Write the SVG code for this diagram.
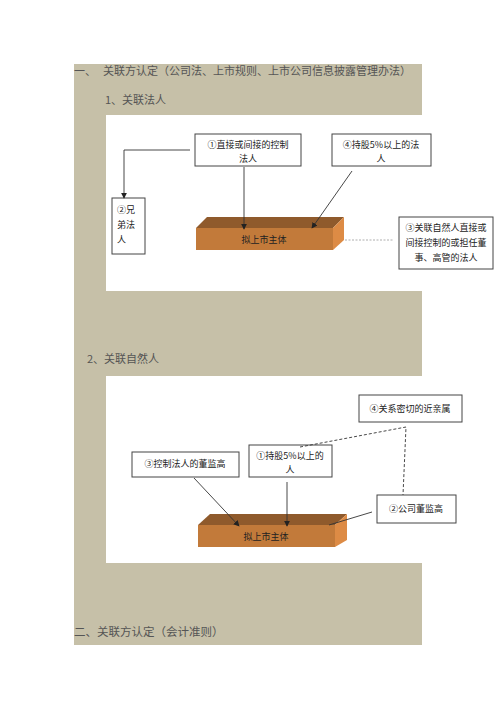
<svg xmlns="http://www.w3.org/2000/svg" width="496" height="702" viewBox="0 0 496 702">
<style>
.h{font-family:"Noto Sans CJK SC","Noto Sans",sans-serif;font-size:11px;fill:#555}
.t{font-family:"Noto Sans CJK SC","Noto Sans",sans-serif;font-size:9px;fill:#222}
.box{fill:#fff;stroke:#444;stroke-width:1}
.ln{stroke:#333;stroke-width:0.9;fill:none}
.top{fill:#8f5a2c}
.front{fill:#c27a3a}
.side{fill:#dd8b45}
</style>
<defs>
<marker id="ar" viewBox="0 0 8 8" refX="7" refY="4" markerWidth="6" markerHeight="6" orient="auto" markerUnits="userSpaceOnUse">
<path d="M0,0 L8,4 L0,8 z" fill="#222"/>
</marker>
</defs>
<rect width="496" height="702" fill="#fff"/>
<rect x="74" y="64" width="348" height="581" fill="#c6c0a8"/>
<rect x="106" y="115" width="316" height="176" fill="#fff"/>
<rect x="106" y="376" width="390" height="187" fill="#fff"/>

<g id="headers">
<text class="h" x="74" y="75">一、</text>
<text class="h" x="103" y="75">关联方认定（公司法、上市规则、上市公司信息披露管理办法）</text>
<text class="h" x="105" y="104">1、关联法人</text>
<text class="h" x="87" y="363">2、关联自然人</text>
<text class="h" x="74" y="636" style="font-size:11.5px">二、关联方认定（会计准则）</text>
</g>

<g id="brick1">
<polygon class="top" points="196,228 207,217 344,217 333,228"/>
<rect class="front" x="196" y="228" width="137" height="22"/>
<polygon class="side" points="333,228 344,217 344,240 333,250"/>
<text class="t" x="264" y="243" text-anchor="middle">拟上市主体</text>
</g>
<g id="s1n1">
<rect class="box" x="195" y="134" width="106" height="32"/>
<text class="t" x="248" y="148" text-anchor="middle">①直接或间接的控制</text>
<text class="t" x="248" y="162" text-anchor="middle">法人</text>
</g>
<g id="s1n4">
<rect class="box" x="332" y="134" width="99" height="32"/>
<text class="t" x="381" y="148" text-anchor="middle">④持股5%以上的法</text>
<text class="t" x="381" y="162" text-anchor="middle">人</text>
</g>
<g id="s1n2">
<rect class="box" x="112" y="198" width="33" height="56"/>
<text class="t" x="117" y="213">②兄</text>
<text class="t" x="117" y="228">弟法</text>
<text class="t" x="117" y="243">人</text>
</g>
<g id="s1n3">
<rect class="box" x="399" y="217" width="94" height="52"/>
<text class="t" x="446" y="231" text-anchor="middle">③关联自然人直接或</text>
<text class="t" x="446" y="246" text-anchor="middle">间接控制的或担任董</text>
<text class="t" x="446" y="261" text-anchor="middle">事、高管的法人</text>
</g>

<g id="brick2">
<polygon class="top" points="198,525 210,514 347,514 335,525"/>
<rect class="front" x="198" y="525" width="137" height="22"/>
<polygon class="side" points="335,525 347,514 347,540 335,547"/>
<text class="t" x="266" y="540" text-anchor="middle">拟上市主体</text>
</g>
<g id="s2n4">
<rect class="box" x="359" y="395" width="103" height="27"/>
<text class="t" x="410" y="412" text-anchor="middle">④关系密切的近亲属</text>
</g>
<g id="s2n3">
<rect class="box" x="132" y="452" width="107" height="25"/>
<text class="t" x="185" y="467" text-anchor="middle">③控制法人的董监高</text>
</g>
<g id="s2n1">
<rect class="box" x="249" y="445" width="83" height="32"/>
<text class="t" x="290" y="459" text-anchor="middle">①持股5%以上的</text>
<text class="t" x="290" y="473" text-anchor="middle">人</text>
</g>
<g id="s2n2">
<rect class="box" x="377" y="495" width="79" height="28"/>
<text class="t" x="416" y="512" text-anchor="middle">②公司董监高</text>
</g>

<g id="connectors">
<polyline class="ln" points="190,150 124,150 124,198" marker-end="url(#ar)"/>
<line class="ln" x1="244" y1="167" x2="244" y2="229" marker-end="url(#ar)"/>
<line class="ln" x1="352" y1="171" x2="312" y2="228" marker-end="url(#ar)"/>
<line x1="345" y1="240" x2="393" y2="240" stroke="#999" stroke-width="0.8" stroke-dasharray="2,1.5"/>
<line class="ln" x1="194" y1="478" x2="239" y2="526" marker-end="url(#ar)"/>
<line class="ln" x1="287" y1="482" x2="287" y2="526" marker-end="url(#ar)"/>
<line class="ln" x1="372" y1="512" x2="329" y2="525"/>
<polyline class="ln" points="300,447 406,427 403,495" stroke-dasharray="3,2"/>
</g>
</svg>
